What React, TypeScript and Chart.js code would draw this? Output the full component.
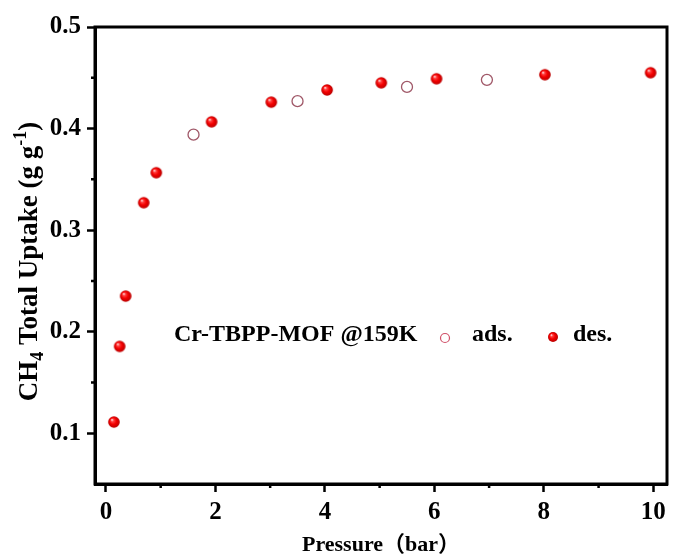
import React, { useEffect, useRef } from "react";
import { Chart, registerables } from "chart.js";

Chart.register(...registerables);

// ---- data ----
const adsPressure = [1.6, 3.5, 5.5, 6.96];
const adsUptake = [0.394, 0.427, 0.441, 0.448];
const desPressure = [0.145, 0.25, 0.36, 0.69, 0.92, 1.93, 3.02, 4.04, 5.03, 6.04, 8.02, 9.95];
const desUptake = [0.111, 0.1855, 0.235, 0.327, 0.3565, 0.4066, 0.426, 0.438, 0.445, 0.449, 0.453, 0.455];
const xMajorTicks = [0, 2, 4, 6, 8, 10];
const xMinorTicks = [1, 3, 5, 7, 9];
const yMajorTicks = [0.1, 0.2, 0.3, 0.4, 0.5];
const yMinorTicks = [0.15, 0.25, 0.35, 0.45];
const legendTitle = "Cr-TBPP-MOF @159K";
const adsLabel = "ads.";
const desLabel = "des.";
const xTitle = "Pressure（bar）";

const SERIF = '"Liberation Serif", "Times New Roman", "Noto Sans CJK SC", serif';

function makeSphere(r: number): HTMLCanvasElement {
  const size = Math.ceil(2 * r + 2);
  const c = document.createElement("canvas");
  c.width = size;
  c.height = size;
  const ctx = c.getContext("2d")!;
  const cx = size / 2;
  const cy = size / 2;
  const g = ctx.createRadialGradient(cx - r * 0.35, cy - r * 0.4, r * 0.05, cx, cy, r);
  g.addColorStop(0, "#ffe0e0");
  g.addColorStop(0.22, "#ff4040");
  g.addColorStop(0.55, "#f40000");
  g.addColorStop(1, "#b80000");
  ctx.fillStyle = g;
  ctx.beginPath();
  ctx.arc(cx, cy, r, 0, Math.PI * 2);
  ctx.fill();
  return c;
}

const decorPlugin = {
  id: "decor",
  afterDraw(chart: any) {
    const { ctx, chartArea } = chart;
    const xs = chart.scales.x;
    const ys = chart.scales.y;
    const { left, right, top, bottom } = chartArea;
    ctx.save();
    // frame
    ctx.strokeStyle = "#000";
    ctx.lineWidth = 3;
    ctx.strokeRect(left, top, right - left, bottom - top);
    // minor ticks
    ctx.lineWidth = 2.5;
    ctx.beginPath();
    yMinorTicks.forEach((v) => {
      const p = ys.getPixelForValue(v);
      ctx.moveTo(left - 4, p);
      ctx.lineTo(left, p);
    });
    xMinorTicks.forEach((v) => {
      const p = xs.getPixelForValue(v);
      ctx.moveTo(p, bottom);
      ctx.lineTo(p, bottom + 4);
    });
    ctx.stroke();

    // x title
    ctx.fillStyle = "#000";
    ctx.font = `bold 22px ${SERIF}`;
    ctx.textAlign = "center";
    ctx.textBaseline = "middle";
    ctx.fillText(xTitle, (left + right) / 2, 545);

    // y title (rotated, with sub/superscripts)
    const main = `bold 27px ${SERIF}`;
    const small = `bold 18px ${SERIF}`;
    const parts: [string, number][] = [
      ["CH", 0],
      ["4", 1],
      [" Total Uptake (g g", 0],
      ["-1", -1],
      [")", 0],
    ];
    let total = 0;
    parts.forEach(([t, s]) => {
      ctx.font = s === 0 ? main : small;
      total += ctx.measureText(t).width;
    });
    ctx.translate(29, (top + bottom) / 2 + 6);
    ctx.rotate(-Math.PI / 2);
    ctx.textAlign = "left";
    ctx.textBaseline = "alphabetic";
    let x = -total / 2;
    parts.forEach(([t, s]) => {
      ctx.font = s === 0 ? main : small;
      const dy = s === 1 ? 6 : s === -1 ? -11 : 0;
      ctx.fillText(t, x, 8 + dy);
      x += ctx.measureText(t).width;
    });
    ctx.restore();

    // legend
    ctx.save();
    const base = top + 314;
    ctx.fillStyle = "#000";
    ctx.font = `bold 24px ${SERIF}`;
    ctx.textAlign = "left";
    ctx.textBaseline = "alphabetic";
    ctx.fillText(legendTitle, left + 79, base);
    ctx.beginPath();
    ctx.arc(left + 350, base - 3, 4.5, 0, Math.PI * 2);
    ctx.strokeStyle = "#d05068";
    ctx.lineWidth = 1.2;
    ctx.stroke();
    ctx.fillText(adsLabel, left + 377, base);
    const sph = makeSphere(5);
    ctx.drawImage(sph, left + 458 - sph.width / 2, base - 4 - sph.height / 2);
    ctx.fillText(desLabel, left + 478, base);
    ctx.restore();
  },
};

export default function App() {
  const ref = useRef<HTMLCanvasElement | null>(null);
  useEffect(() => {
    if (!ref.current) return;
    const sphere = makeSphere(5.8);
    const tickFont = { family: SERIF, size: 25, weight: "bold" as const };
    const chart = new Chart(ref.current, {
      type: "scatter",
      data: {
        datasets: [
          {
            label: adsLabel,
            data: adsPressure.map((x, i) => ({ x, y: adsUptake[i] })),
            pointStyle: "circle",
            pointRadius: 5.5,
            backgroundColor: "rgba(255,255,255,0.9)",
            borderColor: "#a05868",
            borderWidth: 1.3,
          },
          {
            label: desLabel,
            data: desPressure.map((x, i) => ({ x, y: desUptake[i] })),
            pointStyle: sphere as any,
            pointRadius: 6,
            backgroundColor: "#f00",
            borderColor: "#f00",
          },
        ],
      },
      options: {
        animation: false,
        responsive: false,
        layout: { padding: { top: 27, right: 4, left: 0, bottom: 0 } },
        plugins: { legend: { display: false }, tooltip: { enabled: false } },
        scales: {
          x: {
            type: "linear",
            min: -0.2,
            max: 10.25,
            afterBuildTicks: (s: any) => {
              s.ticks = xMajorTicks.map((v) => ({ value: v }));
            },
            afterFit: (s: any) => {
              s.height = 72;
            },
            ticks: {
              font: tickFont,
              color: "#000",
              padding: 6,
              maxRotation: 0,
              callback: (v: any) => String(v),
            },
            grid: {
              drawOnChartArea: false,
              drawTicks: true,
              tickLength: 8,
              tickWidth: 2.5,
              tickColor: "#000",
            },
            border: { display: true, color: "#000", width: 3 },
          },
          y: {
            type: "linear",
            min: 0.05,
            max: 0.5,
            afterBuildTicks: (s: any) => {
              s.ticks = yMajorTicks.map((v) => ({ value: v }));
            },
            afterFit: (s: any) => {
              s.width = 95;
            },
            ticks: {
              font: tickFont,
              color: "#000",
              padding: 6,
              callback: (v: any) => Number(v).toFixed(1),
            },
            grid: {
              drawOnChartArea: false,
              drawTicks: true,
              tickLength: 8,
              tickWidth: 2.5,
              tickColor: "#000",
            },
            border: { display: true, color: "#000", width: 3 },
          },
        },
      },
      plugins: [decorPlugin],
    });
    return () => chart.destroy();
  }, []);
  return (
    <div style={{ position: "fixed", left: 0, top: 0, width: 674, height: 556, background: "#fff" }}>
      <canvas ref={ref} width={674} height={556} />
    </div>
  );
}
